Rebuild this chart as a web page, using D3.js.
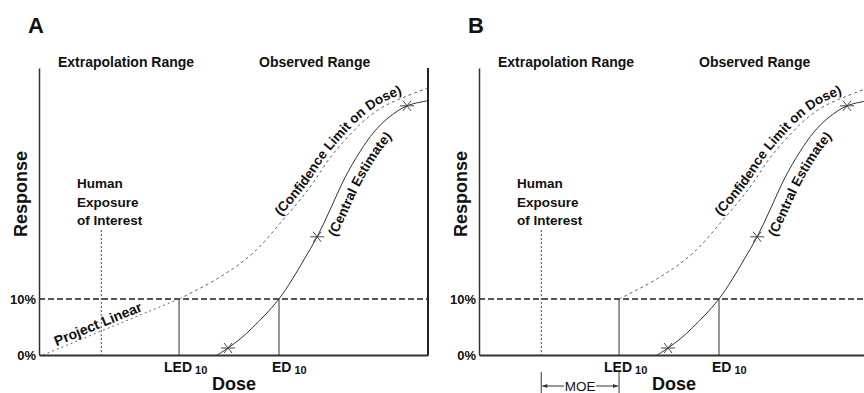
<!DOCTYPE html>
<html>
<head>
<meta charset="utf-8">
<script src="https://cdn.jsdelivr.net/npm/d3@7"></script>
<style>
  body { margin: 0; background: #fff; }
  text { font-family: "Liberation Sans", Arial, sans-serif; fill: #111; }
</style>
</head>
<body>
<div class="chart"></div>
<script>
// ---- data ----
const panelNames = ['A', 'B'];
const responseTicks = [0, 10];

// central estimate curve (dose, response %)
const centralDose = [45.8, 48.6, 51.7, 54.8, 58.1, 61.7, 65.0, 68.1, 71.5, 74.8, 78.6, 82.5, 86.1, 89.7, 94.6, 100];
const centralResp = [0, 1.25, 2.86, 4.82, 7.14, 10, 13.4, 17.0, 21.1, 25.9, 31.6, 36.3, 39.8, 42.3, 44.5, 45.4];

// observed data points (stars)
const starDose = [48.6, 71.5, 94.6];
const starResp = [1.25, 21.1, 44.5];

// lower confidence limit on dose
const confDose = [36, 46.5, 55, 62.7, 69.7, 74.8, 79.9, 84.3, 88.9, 94.1, 100];
const confResp = [10, 13.9, 18.2, 24.1, 30.0, 35.2, 39.3, 42.3, 44.5, 46.1, 47.7];

// straight-line projection to origin (panel A)
const linearDose = [1, 36];
const linearResp = [0, 10];

const led10 = 36;
const ed10 = 61.7;
const humanExposure = 16;
const humanExposureTop = 22.3;
const bmr = 10;

// ---- layout ----
const width = 864;
const height = 393;
const panelLeft = { A: 39, B: 479 };

const svg = d3
  .select('.chart')
  .append('svg')
  .attr('width', width)
  .attr('height', height);

const x = d3.scaleLinear().domain([0, 100]).range([0, 389]);
const y = d3.scaleLinear().domain([0, 51.25]).range([355, 68]);

const line = d3
  .line()
  .x((d) => x(d[0]))
  .y((d) => y(d[1]))
  .curve(d3.curveCatmullRom.alpha(0.5));

const zip = (a, b) => a.map((v, i) => [v, b[i]]);

// builds a path parallel to a drawn curve, used for the curved labels
function offsetPoints(node, dist) {
  const len = node.getTotalLength();
  const n = 120;
  const pts = [];
  for (let i = 0; i <= n; i++) {
    const l = (len * i) / n;
    const p = node.getPointAtLength(l);
    const q = node.getPointAtLength(Math.min(len, l + 1));
    const r = node.getPointAtLength(Math.max(0, l - 1));
    const dx = q.x - r.x;
    const dy = q.y - r.y;
    const m = Math.hypot(dx, dy) || 1;
    pts.push([p.x + (dist * dy) / m, p.y - (dist * dx) / m]);
  }
  return pts;
}

function lengthToX(pts, px) {
  let acc = 0;
  for (let i = 1; i < pts.length; i++) {
    if (pts[i][0] >= px) return acc;
    acc += Math.hypot(pts[i][0] - pts[i - 1][0], pts[i][1] - pts[i - 1][1]);
  }
  return acc;
}

function curvedLabel(g, id, node, dist, startDose, label, size) {
  const pts = offsetPoints(node, dist);
  g.append('path')
    .attr('id', id)
    .attr('d', d3.line().curve(d3.curveBasis)(pts))
    .attr('fill', 'none')
    .attr('stroke', 'none');
  g.append('text')
    .attr('font-size', size)
    .attr('font-weight', 'bold')
    .append('textPath')
    .attr('href', '#' + id)
    .attr('startOffset', lengthToX(pts, x(startDose)))
    .text(label);
}

function drawPanel(name) {
  const g = svg.append('g').attr('transform', `translate(${panelLeft[name]},0)`);

  // panel letter
  g.append('text')
    .attr('x', -11)
    .attr('y', 33)
    .attr('font-size', 22)
    .attr('font-weight', 'bold')
    .text(name);

  // range headings
  g.append('text').attr('x', 19).attr('y', 67).attr('font-size', 14).attr('font-weight', 'bold').text('Extrapolation Range');
  g.append('text').attr('x', 220).attr('y', 67).attr('font-size', 14).attr('font-weight', 'bold').text('Observed Range');

  // 10% benchmark line
  g.append('line')
    .attr('x1', x(0))
    .attr('x2', x(100))
    .attr('y1', y(bmr))
    .attr('y2', y(bmr))
    .attr('stroke', '#555')
    .attr('stroke-width', 2)
    .attr('stroke-dasharray', '6,3');

  // human exposure
  g.append('line')
    .attr('x1', x(humanExposure))
    .attr('x2', x(humanExposure))
    .attr('y1', y(humanExposureTop))
    .attr('y2', y(0))
    .attr('stroke', '#444')
    .attr('stroke-width', 1)
    .attr('stroke-dasharray', '2,2');

  g.selectAll('.human')
    .data(['Human', 'Exposure', 'of Interest'])
    .enter()
    .append('text')
    .attr('x', 38)
    .attr('y', (d, i) => 188 + i * 18.5)
    .attr('font-size', 13.5)
    .attr('font-weight', 'bold')
    .text((d) => d);

  // LED10 / ED10 drop lines
  g.selectAll('.drop')
    .data([led10, ed10])
    .enter()
    .append('line')
    .attr('x1', (d) => x(d))
    .attr('x2', (d) => x(d))
    .attr('y1', y(bmr))
    .attr('y2', y(0))
    .attr('stroke', '#333')
    .attr('stroke-width', 1);

  const led = g.append('text').attr('x', x(led10) - 15).attr('y', 372).attr('font-size', 14).attr('font-weight', 'bold').text('LED');
  led.append('tspan').attr('dx', 3).attr('dy', 2).attr('font-size', 11).text('10');
  const ed = g.append('text').attr('x', x(ed10) - 7).attr('y', 372).attr('font-size', 14).attr('font-weight', 'bold').text('ED');
  ed.append('tspan').attr('dx', 3).attr('dy', 2).attr('font-size', 11).text('10');

  // confidence limit curve
  const conf = g.append('path')
    .attr('d', line(zip(confDose, confResp)))
    .attr('fill', 'none')
    .attr('stroke', '#666')
    .attr('stroke-width', 1)
    .attr('stroke-dasharray', '3,3');

  if (name === 'A') {
    const lin = g.append('path')
      .attr('d', d3.line().x((d) => x(d[0])).y((d) => y(d[1]))(zip(linearDose, linearResp)))
      .attr('fill', 'none')
      .attr('stroke', '#666')
      .attr('stroke-width', 1)
      .attr('stroke-dasharray', '2,3');
    curvedLabel(g, 'lin' + name, lin.node(), 3, 4.5, 'Project Linear', 14);
  }

  // central estimate
  const central = g.append('path')
    .attr('d', line(zip(centralDose, centralResp)))
    .attr('fill', 'none')
    .attr('stroke', '#333')
    .attr('stroke-width', 1);

  curvedLabel(g, 'conf' + name, conf.node(), 4, 62.5, '(Confidence Limit on Dose)', 13.5);
  curvedLabel(g, 'cent' + name, central.node(), -17, 76.5, '(Central Estimate)', 13.5);

  // star markers
  g.selectAll('.star')
    .data(zip(starDose, starResp))
    .enter()
    .append('path')
    .attr('transform', (d) => `translate(${x(d[0])},${y(d[1])})`)
    .attr('d', 'M-7,0L7,0M-4,-5L4,5M-4,5L4,-5')
    .attr('stroke', '#444')
    .attr('stroke-width', 1)
    .attr('fill', 'none');

  // axes
  const yAxis = g.append('g').call(
    d3.axisLeft(y).tickValues(responseTicks).tickSize(0).tickSizeOuter(0).tickPadding(3).tickFormat((d) => d + '%')
  );
  yAxis.select('.domain').attr('stroke', '#333').attr('stroke-width', 1.5);
  yAxis.selectAll('text').attr('font-size', 13).attr('font-weight', 'bold').attr('font-family', '"Liberation Sans", Arial, sans-serif').attr('fill', '#111');

  const xAxis = g.append('g').attr('transform', `translate(0,${y(0)})`).call(
    d3.axisBottom(x).tickValues([]).tickSizeOuter(0)
  );
  xAxis.select('.domain').attr('stroke', '#333').attr('stroke-width', 2);

  if (name === 'A') {
    g.append('line')
      .attr('x1', x(100))
      .attr('x2', x(100))
      .attr('y1', y(51.25))
      .attr('y2', y(0))
      .attr('stroke', '#222')
      .attr('stroke-width', 2);
  }

  // axis titles
  g.append('text')
    .attr('transform', 'translate(-12,194) rotate(-90)')
    .attr('text-anchor', 'middle')
    .attr('font-size', 18)
    .attr('font-weight', 'bold')
    .text('Response');
  g.append('text')
    .attr('x', 195)
    .attr('y', 390)
    .attr('text-anchor', 'middle')
    .attr('font-size', 18)
    .attr('font-weight', 'bold')
    .text('Dose');

  // margin of exposure
  if (name === 'B') {
    const x0 = x(humanExposure);
    const x1 = x(led10);
    const mid = (x0 + x1) / 2;
    g.selectAll('.moe')
      .data([x0, x1])
      .enter()
      .append('line')
      .attr('x1', (d) => d)
      .attr('x2', (d) => d)
      .attr('y1', 372)
      .attr('y2', 393)
      .attr('stroke', '#333')
      .attr('stroke-width', 1);
    g.append('text')
      .attr('x', mid)
      .attr('y', 391)
      .attr('text-anchor', 'middle')
      .attr('font-size', 13.5)
      .text('MOE');
    g.append('path')
      .attr('d', `M${x0 + 1},386L${mid - 16},386M${mid + 16},386L${x1 - 1},386`)
      .attr('stroke', '#333')
      .attr('stroke-width', 1);
    g.append('path')
      .attr('d', `M${x0 + 1},386l5,-2l0,4z M${x1 - 1},386l-5,-2l0,4z`)
      .attr('fill', '#333');
  }
}

panelNames.forEach(drawPanel);
</script>
</body>
</html>
